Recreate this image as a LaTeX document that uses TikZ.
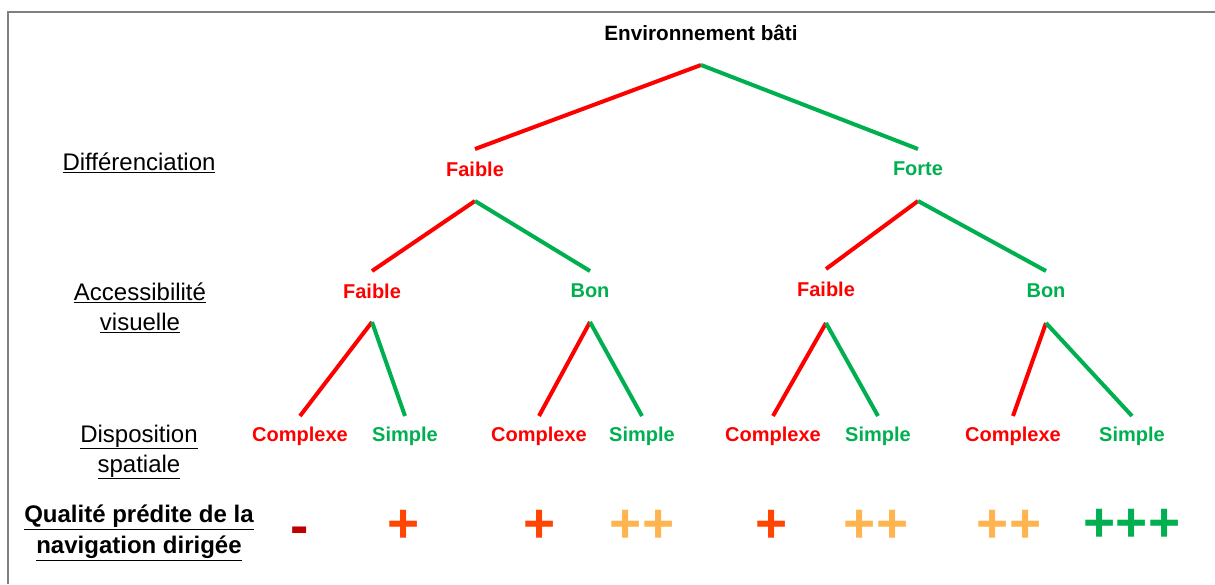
\documentclass[tikz,border=0pt]{standalone}
\usepackage{fontspec}
\setmainfont{Liberation Sans}
\usetikzlibrary{calc}
\definecolor{cred}{RGB}{255,0,0}
\definecolor{cgreen}{RGB}{0,176,80}
\definecolor{cdark}{RGB}{192,0,0}
\definecolor{corange}{RGB}{255,69,0}
\definecolor{clight}{RGB}{255,180,80}
\definecolor{cframe}{RGB}{128,128,128}
\begin{document}
\begin{tikzpicture}[x=1pt,y=-1pt,
  lbl/.style={font=\bfseries\fontsize{20}{24}\selectfont, inner sep=0pt},
  side/.style={font=\fontsize{24}{30}\selectfont, inner sep=0pt, align=center},
  sym/.style={font=\bfseries\fontsize{55}{60}\selectfont, inner sep=0pt, anchor=base},
  redl/.style={draw=cred, line width=4pt},
  greenl/.style={draw=cgreen, line width=4pt}]
\useasboundingbox (0,0) rectangle (1215,584);
\fill[white] (0,0) rectangle (1215,584);
\draw[cframe, line width=2pt] (8,584) -- (8,12) -- (1215,12);

% labels
\node[lbl, font=\bfseries\fontsize{20.7}{24}\selectfont] (root) at (701,33) {Environnement bâti};
\node[lbl, text=cred] (f1) at (475,169) {Faible};
\node[lbl, text=cgreen] (f2) at (918,169) {Forte};
\node[lbl, text=cred] (a1) at (372,291) {Faible};
\node[lbl, text=cgreen] (a2) at (590,291) {Bon};
\node[lbl, text=cred] (a3) at (826,289) {Faible};
\node[lbl, text=cgreen] (a4) at (1046,291) {Bon};
\node[lbl, text=cred] (c1) at (300,436) {Complexe};
\node[lbl, text=cgreen] (s1) at (405,436) {Simple};
\node[lbl, text=cred] (c2) at (539,436) {Complexe};
\node[lbl, text=cgreen] (s2) at (642,436) {Simple};
\node[lbl, text=cred] (c3) at (773,436) {Complexe};
\node[lbl, text=cgreen] (s3) at (878,436) {Simple};
\node[lbl, text=cred] (c4) at (1013,436) {Complexe};
\node[lbl, text=cgreen] (s4) at (1132,436) {Simple};

% connectors
\draw[redl]   ($(root)+(0,32)$) -- ($(f1)+(0,-20)$);
\draw[greenl] ($(root)+(0,32)$) -- ($(f2)+(0,-20)$);
\draw[redl]   ($(f1)+(0,32)$) -- ($(a1)+(0,-20)$);
\draw[greenl] ($(f1)+(0,32)$) -- ($(a2)+(0,-20)$);
\draw[redl]   ($(f2)+(0,32)$) -- ($(a3)+(0,-20)$);
\draw[greenl] ($(f2)+(0,32)$) -- ($(a4)+(0,-20)$);
\draw[redl]   ($(a1)+(0,31)$) -- ($(c1)+(0,-20)$);
\draw[greenl] ($(a1)+(0,31)$) -- ($(s1)+(0,-20)$);
\draw[redl]   ($(a2)+(0,31)$) -- ($(c2)+(0,-20)$);
\draw[greenl] ($(a2)+(0,31)$) -- ($(s2)+(0,-20)$);
\draw[redl]   ($(a3)+(0,34)$) -- ($(c3)+(0,-20)$);
\draw[greenl] ($(a3)+(0,34)$) -- ($(s3)+(0,-20)$);
\draw[redl]   ($(a4)+(0,32)$) -- ($(c4)+(0,-20)$);
\draw[greenl] ($(a4)+(0,32)$) -- ($(s4)+(0,-20)$);

% side labels
\node[side] (d) at (139,163) {\underline{Différenciation}};
\node[side] (av) at (140,308) {\underline{Accessibilité}\\\underline{visuelle}};
\node[side] (dp) at (139,452) {\underline{Disposition}\\\underline{spatiale}};
\node[side, font=\bfseries\fontsize{24}{31}\selectfont] (q) at (139,533) {\underline{Qualité prédite de la}\\\underline{navigation dirigée}};

% predicted quality
\node[sym, text=cdark] (q1) at (300,544) {-};
\node[sym, text=corange] (q2) at (404,542) {+};
\node[sym, text=corange] (q3) at (540,542) {+};
\node[sym, text=clight] (q4) at (642,542) {++};
\node[sym, text=corange] (q5) at (772,542) {+};
\node[sym, text=clight] (q6) at (876,542) {++};
\node[sym, text=clight] (q7) at (1009,542) {++};
\node[sym, text=cgreen] (q8) at (1132,541) {+++};
\end{tikzpicture}
\end{document}
